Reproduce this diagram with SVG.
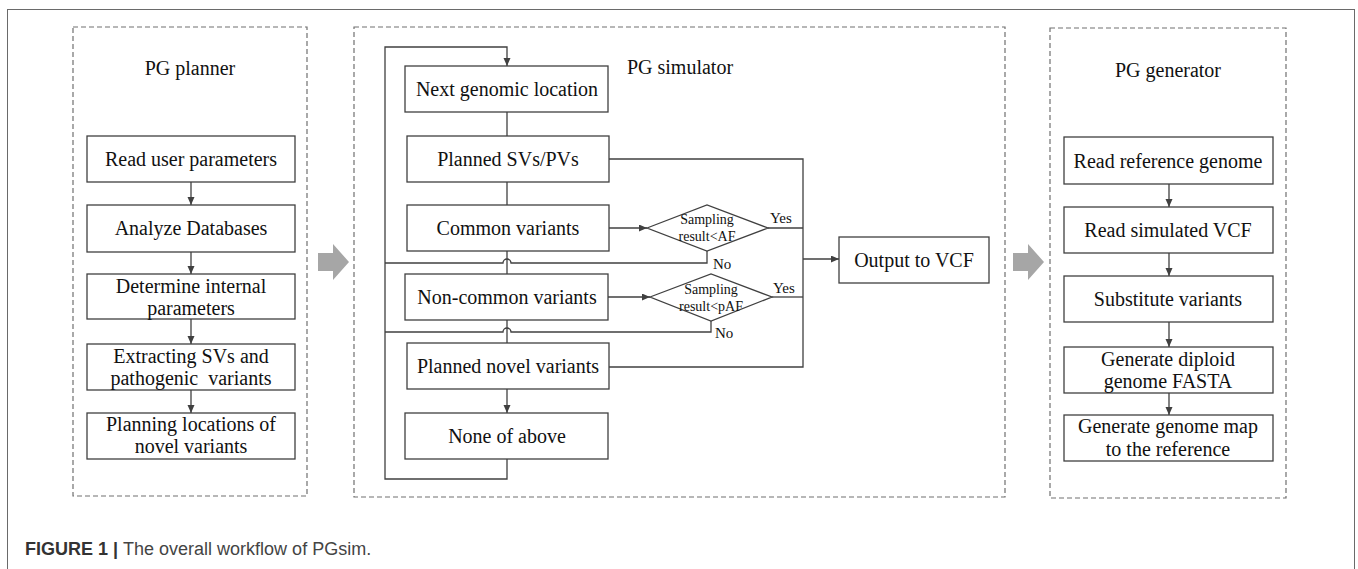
<svg xmlns="http://www.w3.org/2000/svg" width="1358" height="569" viewBox="0 0 1358 569">
<style>
.frame{fill:none;stroke:#6a6a6a;stroke-width:1}
.panel{fill:none;stroke:#707070;stroke-width:1.2;stroke-dasharray:5,3}
.box{fill:#fff;stroke:#404040;stroke-width:1.3}
.ln{fill:none;stroke:#404040;stroke-width:1.3}
.t{font-family:"Liberation Serif","Times New Roman",serif;font-size:20px;fill:#111;text-anchor:middle}
.s{font-family:"Liberation Serif","Times New Roman",serif;font-size:14px;fill:#111;text-anchor:middle}
.yn{font-family:"Liberation Serif","Times New Roman",serif;font-size:15px;fill:#111}
.big{fill:#a6a6a6}
.cap{font-family:"Liberation Sans",Arial,sans-serif;font-size:18px;fill:#444}
</style>
<defs>
<marker id="ah" markerWidth="8" markerHeight="8" refX="8" refY="3.5" orient="auto" markerUnits="userSpaceOnUse">
<path d="M0,0 L8,3.5 L0,7 z" fill="#404040"/>
</marker>
</defs>
<rect class="frame" x="7.5" y="9.5" width="1347" height="600"/>

<g id="panel-planner">
<rect class="panel" x="73" y="27" width="234" height="469"/>
<text class="t" x="190" y="75">PG planner</text>
</g>
<g id="panel-simulator">
<rect class="panel" x="354" y="27" width="651" height="470"/>
<text class="t" x="680" y="74">PG simulator</text>
</g>
<g id="panel-generator">
<rect class="panel" x="1050" y="28" width="236" height="470"/>
<text class="t" x="1168" y="77">PG generator</text>
</g>

<g id="big-arrow-1"><path class="big" d="M318,253 H333 V244 L349,262 L333,280 V271 H318 z"/></g>
<g id="big-arrow-2"><path class="big" d="M1013,253 H1028 V244 L1044,262 L1028,280 V271 H1013 z"/></g>

<g id="connectors">
<line class="ln" x1="191" y1="182" x2="191" y2="205" marker-end="url(#ah)"/>
<line class="ln" x1="191" y1="252" x2="191" y2="274" marker-end="url(#ah)"/>
<line class="ln" x1="191" y1="319" x2="191" y2="344" marker-end="url(#ah)"/>
<line class="ln" x1="191" y1="390" x2="191" y2="413" marker-end="url(#ah)"/>

<path class="ln" d="M507,459 V479 H385 V47 H507 V66" marker-end="url(#ah)"/>
<line class="ln" x1="507" y1="112" x2="507" y2="136"/>
<line class="ln" x1="507" y1="182" x2="507" y2="205"/>
<line class="ln" x1="507" y1="251" x2="507" y2="274"/>
<line class="ln" x1="507" y1="320" x2="507" y2="343"/>
<line class="ln" x1="507" y1="389" x2="507" y2="413" marker-end="url(#ah)"/>
<line class="ln" x1="609" y1="228" x2="647" y2="228" marker-end="url(#ah)"/>
<line class="ln" x1="608" y1="297" x2="650" y2="297" marker-end="url(#ah)"/>
<path class="ln" d="M385,263 H503 A4,4 0 0 1 511,263 H707 V251"/>
<path class="ln" d="M385,332 H503 A4,4 0 0 1 511,332 H711 V321"/>
<path class="ln" d="M609,159 H803 V367 H609"/>
<line class="ln" x1="768" y1="228" x2="803" y2="228"/>
<line class="ln" x1="772" y1="297" x2="803" y2="297"/>
<line class="ln" x1="803" y1="259" x2="839" y2="259" marker-end="url(#ah)"/>
<text class="yn" x="770" y="223">Yes</text>
<text class="yn" x="713" y="269">No</text>
<text class="yn" x="773" y="293">Yes</text>
<text class="yn" x="715" y="338">No</text>

<line class="ln" x1="1169" y1="184" x2="1169" y2="207" marker-end="url(#ah)"/>
<line class="ln" x1="1169" y1="253" x2="1169" y2="276" marker-end="url(#ah)"/>
<line class="ln" x1="1169" y1="322" x2="1169" y2="347" marker-end="url(#ah)"/>
<line class="ln" x1="1169" y1="393" x2="1169" y2="415" marker-end="url(#ah)"/>
</g>

<g id="n-read-user"><rect class="box" x="87" y="136" width="208" height="46"/><text class="t" x="191" y="166">Read user parameters</text></g>
<g id="n-analyze"><rect class="box" x="87" y="205" width="208" height="47"/><text class="t" x="191" y="235">Analyze Databases</text></g>
<g id="n-determine"><rect class="box" x="87" y="274" width="208" height="45"/><text class="t" x="191" y="293">Determine internal</text><text class="t" x="191" y="315">parameters</text></g>
<g id="n-extract"><rect class="box" x="87" y="344" width="208" height="46"/><text class="t" x="191" y="363">Extracting SVs and</text><text class="t" x="191" y="385" xml:space="preserve" style="white-space:pre">pathogenic  variants</text></g>
<g id="n-planning"><rect class="box" x="87" y="413" width="208" height="46"/><text class="t" x="191" y="431">Planning locations of</text><text class="t" x="191" y="453">novel variants</text></g>

<g id="n-next"><rect class="box" x="405" y="66" width="203" height="46"/><text class="t" x="507" y="96">Next genomic location</text></g>
<g id="n-planned-sv"><rect class="box" x="407" y="136" width="202" height="46"/><text class="t" x="508" y="166">Planned SVs/PVs</text></g>
<g id="n-common"><rect class="box" x="407" y="205" width="202" height="46"/><text class="t" x="508" y="235">Common variants</text></g>
<g id="n-noncommon"><rect class="box" x="405" y="274" width="203" height="46"/><text class="t" x="507" y="304">Non-common variants</text></g>
<g id="n-novel"><rect class="box" x="407" y="343" width="202" height="46"/><text class="t" x="508" y="373">Planned novel variants</text></g>
<g id="n-none"><rect class="box" x="405" y="413" width="203" height="46"/><text class="t" x="507" y="443">None of above</text></g>
<g id="d-af"><path class="box" d="M647,228 L707,205 L768,228 L707,251 z"/><text class="s" x="707" y="224">Sampling</text><text class="s" x="707" y="241">result&lt;AF</text></g>
<g id="d-paf"><path class="box" d="M650,297 L711,274 L772,297 L711,321 z"/><text class="s" x="711" y="294">Sampling</text><text class="s" x="711" y="311">result&lt;pAF</text></g>
<g id="n-output"><rect class="box" x="839" y="237" width="150" height="46"/><text class="t" x="914" y="267">Output to VCF</text></g>

<g id="n-read-ref"><rect class="box" x="1064" y="137" width="209" height="47"/><text class="t" x="1168" y="168">Read reference genome</text></g>
<g id="n-read-vcf"><rect class="box" x="1064" y="207" width="209" height="46"/><text class="t" x="1168" y="237">Read simulated VCF</text></g>
<g id="n-substitute"><rect class="box" x="1064" y="276" width="209" height="46"/><text class="t" x="1168" y="306">Substitute variants</text></g>
<g id="n-diploid"><rect class="box" x="1064" y="347" width="209" height="46"/><text class="t" x="1168" y="366">Generate diploid</text><text class="t" x="1168" y="388">genome FASTA</text></g>
<g id="n-map"><rect class="box" x="1064" y="415" width="209" height="46"/><text class="t" x="1168" y="433">Generate genome map</text><text class="t" x="1168" y="456">to the reference</text></g>

<text class="cap" x="25" y="555"><tspan font-weight="bold" fill="#333">FIGURE 1 | </tspan>The overall workflow of PGsim.</text>
</svg>
